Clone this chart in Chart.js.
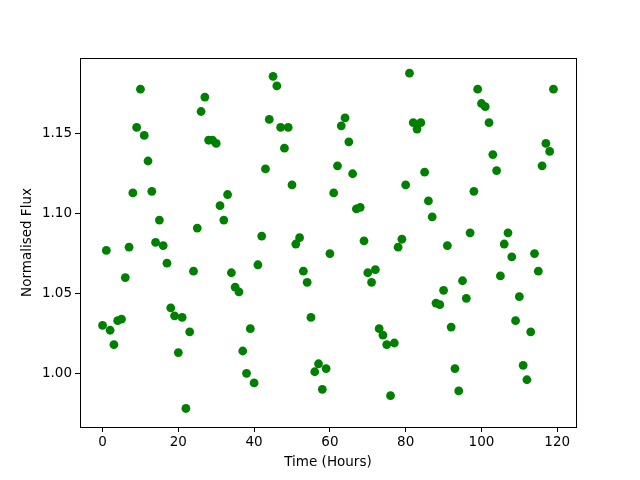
<!DOCTYPE html>
<html>
<head>
<meta charset="utf-8">
<script src="https://cdn.jsdelivr.net/npm/chart.js@4"></script>
<style>
  html, body { margin: 0; padding: 0; background: #fff; }
  #wrap { width: 640px; height: 480px; }
</style>
</head>
<body>
<div id="wrap"><canvas id="c" width="640" height="480"></canvas></div>
<script>
// Hours 0..119, one reading per hour
var hours = [];
for (var h = 0; h < 120; h++) hours.push(h);

var flux = [
  1.030, 1.077, 1.027, 1.018, 1.033, 1.034, 1.060, 1.079, 1.113, 1.154,
  1.178, 1.149, 1.133, 1.114, 1.082, 1.096, 1.080, 1.069, 1.041, 1.036,
  1.013, 1.035, 0.978, 1.026, 1.064, 1.091, 1.164, 1.173, 1.146, 1.146,
  1.144, 1.105, 1.096, 1.112, 1.063, 1.054, 1.051, 1.014, 1.000, 1.028,
  0.994, 1.068, 1.086, 1.128, 1.159, 1.186, 1.180, 1.154, 1.141, 1.154,
  1.118, 1.081, 1.085, 1.064, 1.057, 1.035, 1.001, 1.006, 0.990, 1.003,
  1.075, 1.113, 1.130, 1.155, 1.160, 1.145, 1.125, 1.103, 1.104, 1.083,
  1.063, 1.057, 1.065, 1.028, 1.024, 1.018, 0.986, 1.019, 1.079, 1.084,
  1.118, 1.188, 1.157, 1.153, 1.157, 1.126, 1.108, 1.098, 1.044, 1.043,
  1.052, 1.080, 1.029, 1.003, 0.989, 1.058, 1.047, 1.088, 1.114, 1.178,
  1.169, 1.167, 1.157, 1.137, 1.127, 1.061, 1.081, 1.088, 1.073, 1.033,
  1.048, 1.005, 0.996, 1.026, 1.075, 1.064, 1.130, 1.144, 1.139, 1.178
];

var xTicks = [0, 20, 40, 60, 80, 100, 120];
var yTicks = [1.00, 1.05, 1.10, 1.15];

var points = hours.map(function(h, i) { return { x: h, y: flux[i] }; });

// Full black frame around the plot area, like matplotlib's spines
var framePlugin = {
  id: 'frame',
  afterDraw: function(chart) {
    var a = chart.chartArea;
    var ctx = chart.ctx;
    ctx.save();
    ctx.strokeStyle = '#000';
    ctx.lineWidth = 1;
    ctx.strokeRect(Math.round(a.left) + 0.5, Math.round(a.top) + 0.5,
      Math.round(a.right - a.left), Math.round(a.bottom - a.top));
    ctx.restore();
  }
};

var tickFont = { family: 'DejaVu Sans', size: 13.5 };

new Chart(document.getElementById('c').getContext('2d'), {
  type: 'scatter',
  plugins: [framePlugin],
  data: {
    datasets: [{
      data: points,
      backgroundColor: '#008000',
      borderWidth: 0,
      pointRadius: 4.4,
      pointHoverRadius: 4.4
    }]
  },
  options: {
    responsive: false,
    animation: false,
    events: [],
    layout: { padding: { left: 0, right: 64, top: 58, bottom: 0 } },
    plugins: { legend: { display: false }, tooltip: { enabled: false } },
    scales: {
      x: {
        type: 'linear',
        min: -5.95,
        max: 124.95,
        afterBuildTicks: function(s) { s.ticks = xTicks.map(function(v) { return { value: v }; }); },
        afterFit: function(s) { s.height = 53; },
        grid: { drawOnChartArea: false, drawTicks: true, tickLength: 5, color: '#000' },
        border: { display: false },
        ticks: { color: '#000', font: tickFont, padding: 2, maxRotation: 0 },
        title: { display: true, text: 'Time (Hours)', color: '#000', font: tickFont, padding: { top: 2, bottom: 9 } }
      },
      y: {
        type: 'linear',
        min: 0.9664,
        max: 1.1975,
        afterBuildTicks: function(s) { s.ticks = yTicks.map(function(v) { return { value: v }; }); },
        afterFit: function(s) { s.width = 80; },
        grid: { drawOnChartArea: false, drawTicks: true, tickLength: 5, color: '#000' },
        border: { display: false },
        ticks: {
          color: '#000', font: tickFont, padding: 3,
          callback: function(v) { return v.toFixed(2); }
        },
        title: { display: true, text: 'Normalised Flux', color: '#000', font: tickFont, padding: { top: 19, bottom: 4 } }
      }
    }
  }
});
</script>
</body>
</html>
